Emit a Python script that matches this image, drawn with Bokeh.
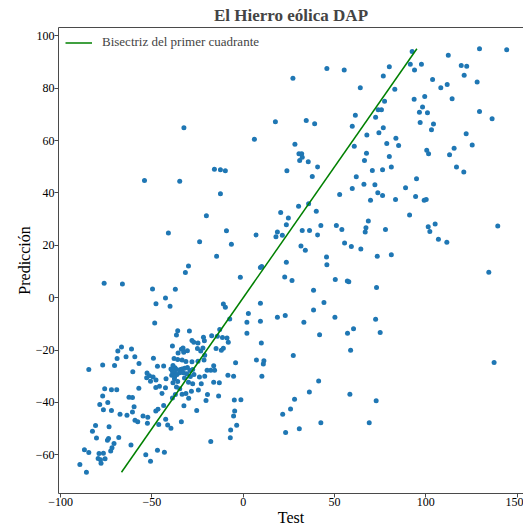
from bokeh.plotting import figure
from bokeh.models import Range1d, LinearAxis, FixedTicker, Legend, LegendItem, ColumnDataSource
from bokeh.embed import file_html
from bokeh.resources import INLINE

# ---------------- data (Test, Predicción) ----------------
test_a = [92.5,112.3,129.4,144.3,45.8,55.3,27.2,80.0,76.7,91.5,97.6,93.8,119.4,122.4,121.0,103.7,128.1,111.7,108.2,64.1,
          83.0,99.4,93.6,114.4,77.4,98.2,73.9,75.7,96.5,100.9,129.4,61.4,72.5,136.3,34.5,39.1,96.9,104.2,59.7,76.7,
          103.1,74.3,67.7,122.1,83.6,28.3,78.6,85.1,125.4,60.8,115.5,100.5,30.5,32.0,67.5,101.5,113.0,80.0]
pred_a = [94.0,92.6,95.1,94.7,87.5,87.0,83.8,88.2,84.7,89.2,89.2,87.0,88.7,88.4,85.0,83.3,82.4,81.4,80.2,80.2,
          79.6,76.8,75.8,76.0,75.0,72.8,71.8,71.8,70.8,70.6,71.1,69.7,68.9,68.3,67.7,66.4,66.9,66.3,65.5,64.9,
          64.1,63.0,62.1,62.6,60.9,58.6,58.9,58.1,58.3,57.8,57.1,56.3,55.0,55.0,55.2,55.0,54.6,53.9]

test_b = [116.8,120.8,139.4,111.5,134.5,137.4]
pred_b = [49.9,48.0,27.4,21.2,9.7,-24.8]

test_c = [30.9,32.3,35.6,23.9,40.7,37.8,66.4,70.7,76.3,81.1,
          61.9,66.1,72.1,59.7,52.8,73.7,76.3,69.7,83.4,88.9,
          94.9,94.4,99.1,100.2,91.1,30.3,35.8,40.0,20.5,24.7,
          23.6,21.4,32.3,36.3,42.5,40.7,51.0,54.0,68.5,67.2,
          66.8,77.9,101.3,105.1,102.2,106.9,55.5,59.2,64.4,31.6,
          34.0,73.4,81.1,45.6,45.8,23.6,22.7,26.7,50.4,57.0,
          57.8,73.0,38.5,44.2,38.5]
pred_c = [52.4,53.6,51.9,48.5,49.9,46.3,52.4,48.6,48.9,49.9,
          46.2,43.3,43.1,41.7,39.4,40.1,39.0,37.2,37.5,42.0,
          45.4,38.6,37.2,37.5,31.6,34.9,35.9,33.0,32.5,30.4,
          27.9,23.8,25.7,25.7,27.6,23.9,27.6,26.0,29.3,26.7,
          25.1,26.0,27.1,28.1,25.3,22.3,20.9,19.5,18.6,19.7,
          18.1,15.8,16.4,15.5,12.6,13.5,7.9,6.6,6.9,6.4,
          6.1,3.9,2.8,-1.8,-4.7]

test_d = [33.2,50.2,72.5,41.8,57.1,60.4,75.0,58.8,27.4,41.3,36.2,28.1,25.9,58.4,72.8,42.5,69.0,30.7]
pred_d = [-9.4,-7.5,-8.2,-14.2,-13.6,-11.9,-13.3,-20.1,-22.1,-31.8,-36.0,-38.8,-42.5,-36.9,-39.4,-47.8,-47.8,-50.1]

test_e = [-10.9,-9.8,9.4,2.8,18.7,23.0,2.0,9.4,2.0,9.9,
          -4.2,7.2,11.3,11.0,-5.3,10.2,-29.9,-20.4,-13.5,-4.9,
          -1.3,-32.5,-25.5,-4.7,-5.3,21.6,-33.9,-3.6,-6.9,23.2,
          -7.1,-17.8]
pred_e = [-2.4,-3.7,-2.1,-6.0,-7.5,-6.8,-9.4,-9.0,-13.6,-17.3,
          -24.9,-23.8,-24.1,-25.3,-30.0,-30.0,-38.4,-39.3,-37.6,-39.1,
          -39.0,-41.3,-43.1,-43.3,-45.2,-44.5,-47.4,-48.7,-50.5,-51.5,
          -53.5,-54.9]

test_f = [-48.5,-35.9,-29.5,-36.6,-28.1,-27.1,-21.8,-21.3,-17.3,-14.2,
          -11.4,-8.9,-7.4,-38.8,-33.9,-33.0,-35.7,-32.6,-30.6,-24.8,
          -25.1,-23.3,-22.1,-14.9,-12.0,-10.9,-49.2,-37.9,-35.9,-33.5,
          -31.4,-28.1,-24.8,-21.5,-38.5,-37.4,-39.6,-36.5,-34.4,-33.5,
          -32.1,-30.6,-38.8,-37.7,-36.3,-39.2,-37.5,-34.8,-32.8,-31.0,
          -29.2,-27.7,-27.0,-47.0,-43.6,-17.8,-15.7,-49.4,-47.8,-42.3,
          -37.7,-35.9,-38.5,-36.6,-32.2,-29.0,-30.0,-24.0,-21.1,-8.4,
          -16.2,-13.1,-27.7,-47.9,-45.9,-42.6,-34.8,-28.4,-24.6,-44.5,
          -33.5,-31.4,-19.6,-12.9,-8.2,-21.1,-16.2,-19.8,-23.0]
pred_f = [-9.7,-12.6,-12.7,-14.3,-16.4,-17.0,-15.1,-16.5,-14.5,-14.7,
          -15.2,-15.4,-8.1,-18.5,-19.7,-19.2,-21.1,-20.8,-20.3,-17.3,
          -19.4,-20.4,-19.2,-19.4,-20.1,-19.3,-23.1,-23.2,-23.6,-23.8,
          -24.4,-24.5,-24.3,-23.8,-25.9,-26.8,-27.2,-27.4,-27.4,-27.2,
          -27.0,-26.7,-28.1,-28.7,-29.3,-29.6,-30.0,-28.7,-28.7,-29.1,
          -27.8,-27.4,-29.3,-26.2,-26.1,-27.7,-27.7,-30.3,-31.4,-31.0,
          -31.0,-32.0,-32.5,-34.1,-30.7,-30.1,-32.3,-30.3,-30.0,-29.6,
          -32.3,-32.5,-32.9,-34.3,-33.8,-34.4,-34.8,-35.7,-35.3,-36.6,
          -36.9,-36.6,-37.0,-12.2,-17.0,-22.0,-26.0,-27.7,-32.9]

test_g = [-47.8,-40.1,-66.7,-68.7,-61.2,-64.2,-59.4,-69.1,-77.0,-70.5,
          -57.1,-84.6,-60.5,-52.7,-51.4,-52.9,-50.8,-75.9,-72.2,-69.3,
          -57.2,-62.6,-60.7,-78.6,-74.2,-77.0,-76.6,-72.2,-59.8,-60.7,
          -67.5,-63.7,-59.3,-57.8,-54.9,-52.3,-47.9,-46.7,-43.6,-39.6,
          -41.4,-42.5,-52.5,-46.3,-38.8,-37.2,-80.9,-82.6,-73.5,-80.4,
          -73.8,-74.4,-70.8,-68.2,-71.9,-61.5,-87.0,-84.6,-79.0,-76.6,
          -79.5,-78.2,-77.9,-75.7,-72.6,-89.5,-85.9,-53.4,-47.0,-43.2,
          -50.8]
pred_g = [-2.3,-3.3,-18.8,-20.4,-19.6,-22.6,-22.6,-23.2,-25.7,-25.9,
          -25.1,-27.4,-28.3,-28.8,-29.8,-30.6,-31.9,-34.8,-35.2,-35.2,
          -34.6,-38.0,-38.1,-40.8,-40.0,-37.6,-42.8,-43.1,-41.7,-43.7,
          -44.5,-44.9,-46.8,-47.4,-45.2,-45.7,-43.3,-42.6,-41.2,-49.9,
          -48.6,-46.4,-48.0,-48.4,-38.3,-37.0,-48.8,-51.0,-49.3,-53.6,
          -53.8,-54.5,-55.7,-53.4,-57.3,-56.3,-58.1,-59.1,-59.5,-59.4,
          -61.4,-61.9,-63.2,-61.5,-58.6,-63.7,-66.7,-60.0,-58.3,-59.0,
          -62.5]

test_h = [-54.1,-34.8,-15.8,-12.5,-9.8,-12.5,-20.2,-41.0,-9.2,-23.9,
          -6.5,-14.6,7.0,18.7,17.9,-30.0,-31.7,9.4,10.1,-1.6,
          -76.2,-66.2,-49.7,-37.2,-42.6,-32.5,6.1,17.6]
pred_h = [44.8,44.5,49.1,48.9,48.5,39.7,31.3,24.7,25.6,21.4,
          20.4,15.8,23.9,25.1,23.3,12.1,9.6,11.5,11.9,7.8,
          5.5,5.2,3.3,3.2,-0.1,64.9,60.5,67.2]

x_ticks = [-100, -50, 0, 50, 100, 150]
y_ticks = [-60, -40, -20, 0, 20, 40, 60, 80, 100]

test = test_a + test_b + test_c + test_d + test_e + test_f + test_g + test_h
pred = pred_a + pred_b + pred_c + pred_d + pred_e + pred_f + pred_g + pred_h

FONT = "Liberation Serif"
SPINE = "#4a4a4a"

p = figure(width=523, height=528, output_backend="svg", toolbar_location=None,
           x_range=Range1d(-101.2, 153.5), y_range=Range1d(-74.8, 103.2),
           min_border_left=58, min_border_right=0, min_border_top=0, min_border_bottom=0,
           background_fill_color="white", border_fill_color="white")
p.outline_line_color = None
p.grid.visible = False

p.title.text = "El Hierro eólica DAP"
p.title.text_font = FONT
p.title.text_font_style = "bold"
p.title.text_font_size = "17px"
p.title.align = "center"
p.title.standoff = 6
p.title.offset = 4

def minus(v):
    return str(v).replace("-", "\u2212")

for ax, ticks, lab in ((p.xaxis[0], x_ticks, "Test"), (p.yaxis[0], y_ticks, "Predicción")):
    ax.ticker = FixedTicker(ticks=ticks)
    ax.major_label_overrides = {t: minus(t) for t in ticks}
    ax.axis_label = lab
    ax.axis_label_text_font = FONT
    ax.axis_label_text_font_size = "16px"
    ax.axis_label_text_font_style = "normal"
    ax.major_label_text_font = FONT
    ax.major_label_text_font_size = "12px"
    ax.major_label_text_color = "black"
    ax.axis_label_text_color = "black"
    ax.major_tick_in = 0
    ax.major_tick_out = 4
    ax.minor_tick_line_color = None
    ax.axis_line_color = SPINE
    ax.major_tick_line_color = SPINE
    ax.major_label_standoff = 0
    ax.axis_label_standoff = 0

top = LinearAxis(ticker=FixedTicker(ticks=[]), axis_line_color=SPINE,
                 major_tick_line_color=None, minor_tick_line_color=None,
                 major_label_text_font_size="0px")
p.add_layout(top, "above")

src = ColumnDataSource(dict(x=test, y=pred))
p.scatter("x", "y", source=src, size=5, color="#1f77b4", line_color=None)

lo, hi = min(pred), max(pred)
bis = p.line([lo, hi], [lo, hi], line_color="green", line_width=1.5)

legend = Legend(items=[LegendItem(label="Bisectriz del primer cuadrante", renderers=[bis])],
                location="top_left", margin=7, padding=3, label_height=13, glyph_height=13,
                glyph_width=27, label_standoff=10, label_text_font=FONT, label_text_font_size="13px",
                border_line_color=None, background_fill_alpha=0)
p.add_layout(legend)

open("out.html", "w").write(file_html(p, INLINE))
